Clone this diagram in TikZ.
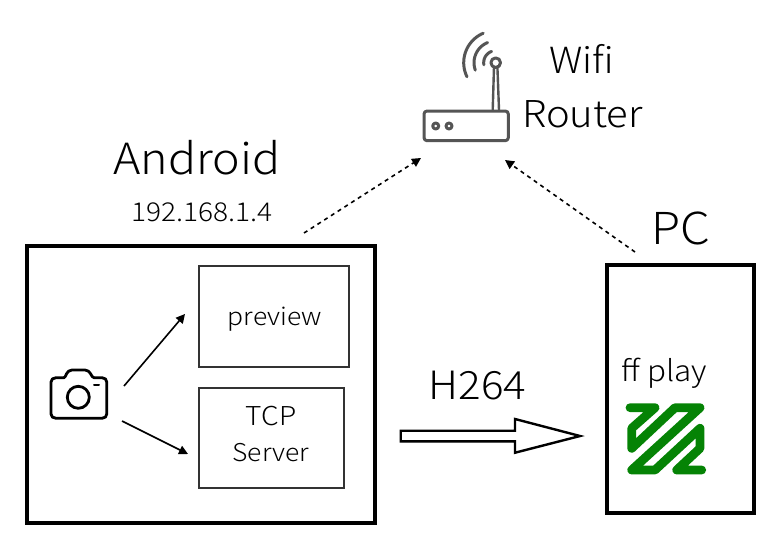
\documentclass[tikz,border=0pt]{standalone}
\usepackage{fontspec}
\setmainfont{Noto Sans CJK JP}[UprightFont=* Light,FakeStretch=1.08]
\usetikzlibrary{arrows.meta,shadows}
\definecolor{routergray}{HTML}{555555}
\definecolor{ffgreen}{HTML}{058305}
\tikzset{
  x=1pt,y=-1pt,
  bigbox/.style={draw=black,line width=4pt,fill=white,drop shadow={shadow xshift=-1pt,shadow yshift=-1pt,opacity=.25}},
  innerbox/.style={draw=black!80,line width=1.1pt,fill=white,drop shadow={shadow xshift=.6pt,shadow yshift=-.6pt,opacity=.25}},
  solidarrow/.style={line width=1.6pt,-{Triangle[length=9pt,width=9pt]}},
  dotarrow/.style={line width=1.6pt,dash pattern=on 4pt off 4pt,-{Triangle[length=9pt,width=9pt]}},
  txt/.style={inner sep=0pt,text=black},
  router/.style={draw=routergray,line width=3pt,line cap=round,line join=round},
  camera/.style={draw=black,line width=2.8pt,line join=round,line cap=round},
}
\begin{document}
\begin{tikzpicture}
\useasboundingbox (0,0) rectangle (783,546);
\fill[white] (0,0) rectangle (783,546);
% boxes
\path[bigbox] (27,246) rectangle (375,523);
\path[bigbox] (607,265) rectangle (754,513);
\path[innerbox] (199,266) rectangle (349,367);
\path[innerbox] (199,388) rectangle (344,488);
% named nodes
\coordinate (androidOut) at (304,233);
\coordinate (pcOut) at (635,252);
\coordinate (routerL) at (421,158);
\coordinate (routerR) at (505,160);
\coordinate (camA) at (124,386);
\coordinate (camB) at (122,421);
\coordinate (prevIn) at (185,314);
\coordinate (tcpIn) at (188,454);
\node[txt,font=\fontsize{43}{43}\selectfont] (android) at (197,157.5) {Android};
\node[txt,font=\fontsize{26}{26}\selectfont] (ip) at (202,212.5) {192.168.1.4};
\node[txt,font=\fontsize{36}{36}\selectfont] (wifi) at (582,59) {Wifi};
\node[txt,font=\fontsize{37}{37}\selectfont] (routerlabel) at (582.5,114) {Router};
\node[txt,font=\fontsize{44}{44}\selectfont] (pc) at (680.5,228) {PC};
\node[txt,font=\fontsize{24.5}{24.5}\selectfont] (preview) at (275,319) {preview};
\node[txt,font=\fontsize{26}{26}\selectfont] (tcp) at (271,416) {TCP};
\node[txt,font=\fontsize{24.5}{24.5}\selectfont] (server) at (271,453) {Server};
\node[txt,font=\fontsize{39}{39}\selectfont] (h264) at (477.5,386) {H264};
\node[txt,font=\fontsize{29}{29}\selectfont] (ffplay) at (664.5,373) {ff play};
% connectors
\draw[solidarrow] (camA) -- (prevIn);
\draw[solidarrow] (camB) -- (tcpIn);
\draw[dotarrow] (androidOut) -- (routerL);
\draw[dotarrow] (pcOut) -- (routerR);
% block arrow
\draw[line width=2.4pt,fill=white,miter limit=10,drop shadow={shadow xshift=.6pt,shadow yshift=-1pt,opacity=.25}]
  (400.7,430.7) -- (515,430.7) -- (515,419) -- (580,436) -- (515,452.7) -- (515,441.3) -- (400.7,441.3) -- cycle;
% camera icon
\draw[camera] (56,377.7) -- (64,377.7) .. controls (66,377.7) and (66,370) .. (72,370)
  -- (85,370) .. controls (91,370) and (91,377.7) .. (94,377.7) -- (102,377.7)
  .. controls (105,377.7) and (106.7,379.5) .. (106.7,382) -- (106.7,414)
  .. controls (106.7,416.5) and (105,418.3) .. (102,418.3) -- (56,418.3)
  .. controls (53,418.3) and (51,416.5) .. (51,414) -- (51,382)
  .. controls (51,379.5) and (53,377.7) .. (56,377.7) -- cycle;
\draw[camera] (78.3,397.3) circle[radius=11];
\draw[camera,line width=2pt] (94,384.5) -- (99,384.5);
% router icon
\draw[router,fill=white,rounded corners=3pt] (424,111) rectangle (508.3,140.7);
\draw[router] (435.7,126) circle[radius=3];
\draw[router] (449,126) circle[radius=3];
\draw[router,line width=2.4pt] (492.7,110) -- (494,67);
\draw[router,line width=2.4pt] (499,110) -- (497.4,67);
\draw[router,fill=white] (495.7,62.7) circle[radius=4.8];
\foreach \r/\a/\b in {12/110/190, 21.7/112/200, 32/113/206}
  \draw[router] plot[domain=\a:\b,samples=20,smooth] ({495.7+\r*cos(\x)},{62.7-\r*sin(\x)});
% ffmpeg logo
\draw[ffgreen,line width=8.8pt,line cap=round,line join=round]
  (630,407.7) -- (655,407.7) -- (631.7,428.3) -- (631.7,448.3) -- (675,407.7) -- (700,407.7)
  -- (631.7,470) -- (655,470) -- (700,428.3) -- (700,448.3) -- (676.7,470) -- (701.7,470);
\end{tikzpicture}
\end{document}
